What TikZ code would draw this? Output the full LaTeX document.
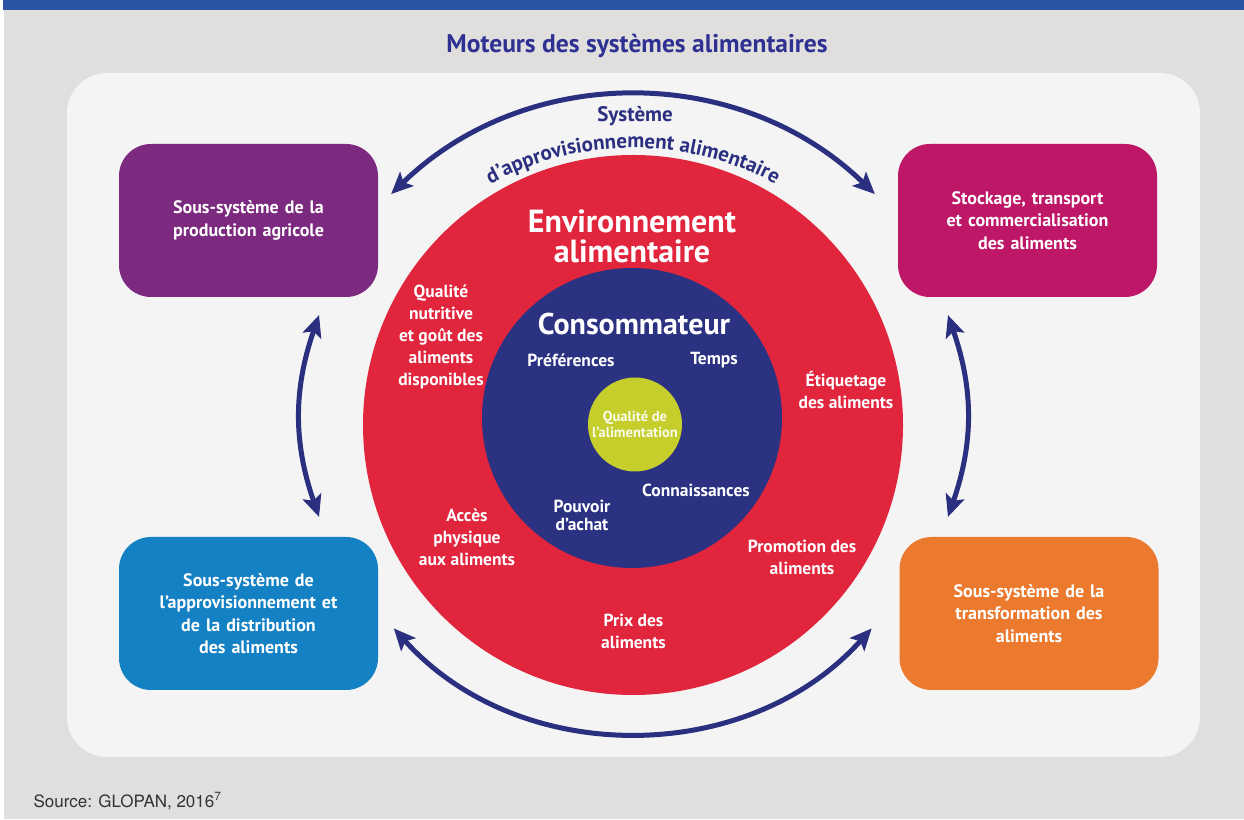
\documentclass[tikz,border=0pt]{standalone}
\usepackage{fontspec}
\setmainfont{PT Sans}
\newfontfamily\srcfont{TeX Gyre Heros}
\usetikzlibrary{arrows.meta,decorations.text,shapes}

\definecolor{bggray}{HTML}{E0DFDD}
\definecolor{panelgray}{HTML}{F4F4F4}
\definecolor{barblue}{HTML}{2B54A3}
\definecolor{titlenavy}{HTML}{2E3192}
\definecolor{arrownavy}{HTML}{2B2F80}
\definecolor{envred}{HTML}{E1253D}
\definecolor{consnavy}{HTML}{2B3282}
\definecolor{dietgreen}{HTML}{C5CE2B}
\definecolor{prodpurple}{HTML}{7B2A7F}
\definecolor{stockmagenta}{HTML}{BE1767}
\definecolor{supplyblue}{HTML}{1581C5}
\definecolor{procorange}{HTML}{EB7A2E}

\tikzstyle{line} = [draw=arrownavy, line width=5pt, >={Stealth[length=22pt, width=20pt, inset=5pt, line width=1pt]}, <->]
\tikzstyle{ring} = [circle, draw=none, inner sep=0pt, align=center]
\tikzstyle{subsys} = [rectangle, rounded corners=32pt, minimum width=259pt, minimum height=153pt, text width=240pt, text centered, text=white, font=\fontsize{18}{22.5}\selectfont\bfseries]
\tikzstyle{envlabel} = [text=white, align=center, font=\fontsize{17.5}{22}\selectfont\bfseries]
\tikzstyle{conslabel} = [text=white, align=center, font=\fontsize{17.5}{18}\selectfont\bfseries]

\begin{document}
\begin{tikzpicture}[x=1pt, y=1pt]
\useasboundingbox (0,0) rectangle (1244,819);
\fill [bggray] (4,0) rectangle (1244,809);
\fill [barblue] (3,809) rectangle (1244,819);
\fill [panelgray, rounded corners=40pt] (67,62) rectangle (1200,746);

\node [text=titlenavy, font=\fontsize{25.5}{25.5}\selectfont\bfseries] (title) at (637,773) {Moteurs des systèmes alimentaires};
\node [anchor=base west, text=black!80, font=\srcfont\fontsize{17}{17}\selectfont] (source) at (30,12) {Source: GLOPAN, 2016\textsuperscript{7}};


\node [ring, fill=envred, minimum size=540pt] (env) at (633,394) {};
\node [ring, fill=consnavy, minimum size=300pt, above of=env, node distance=7pt, xshift=-1pt] (cons) {};
\node [ring, fill=dietgreen, minimum size=94pt, below of=cons, node distance=6.5pt, xshift=3pt, text=white!92!dietgreen, font=\fontsize{14.5}{16.5}\selectfont\bfseries] (diet) {Qualité de\\l'alimentation};


\node [envlabel, above of=env, node distance=189pt, xshift=-1pt, font=\fontsize{32}{30}\selectfont\bfseries] (envtitle) {Environnement\\alimentaire};
\node [envlabel, above of=env, node distance=88pt, xshift=-192pt] (qualite) {Qualité\\nutritive\\et goût des\\aliments\\disponibles};
\node [envlabel, above of=env, node distance=35pt, xshift=213pt] (etiquetage) {Étiquetage\\des aliments};
\node [envlabel, below of=env, node distance=112pt, xshift=-166pt] (acces) {Accès\\physique\\aux aliments};
\node [envlabel, below of=env, node distance=132pt, xshift=169pt] (promotion) {Promotion des\\aliments};
\node [envlabel, below of=env, node distance=206.5pt, xshift=0.5pt] (prix) {Prix des\\aliments};


\node [conslabel, above of=cons, node distance=94pt, xshift=2pt, font=\fontsize{30}{30}\selectfont\bfseries] (constitle) {Consommateur};
\node [conslabel, above of=cons, node distance=58pt, xshift=-61pt] (pref) {Préférences};
\node [conslabel, right of=pref, node distance=143pt] (temps) {Temps};
\node [conslabel, below of=cons, node distance=72pt, xshift=64pt] (connais) {Connaissances};
\node [conslabel, below of=cons, node distance=97pt, xshift=-50pt] (pouvoir) {Pouvoir\\d'achat};


\node [subsys, fill=prodpurple, above of=env, node distance=204.5pt, xshift=-384.5pt] (prod) {Sous-système de la\\production agricole};
\node [subsys, fill=stockmagenta, right of=prod, node distance=779pt] (stock) {Stockage, transport\\et commercialisation\\des aliments};
\node [subsys, fill=supplyblue, below of=prod, node distance=393pt] (supply) {Sous-système de\\l'approvisionnement et\\de la distribution\\des aliments};
\node [subsys, fill=procorange, right of=supply, node distance=780.5pt] (proc) {Sous-système de la\\transformation des\\aliments};


\coordinate (prod_top) at ([xshift=13pt, yshift=26.5pt]prod.east);
\coordinate (stock_top) at ([xshift=-23pt, yshift=26.5pt]stock.west);
\coordinate (supply_bot) at ([xshift=15.7pt, yshift=-15pt]supply.east);
\coordinate (proc_bot) at ([xshift=-27.7pt, yshift=-15pt]proc.west);
\coordinate (prod_down) at ([xshift=70.5pt, yshift=-18pt]prod.south);
\coordinate (supply_up) at ([xshift=70.5pt, yshift=20pt]supply.north);
\coordinate (stock_down) at ([xshift=-79.5pt, yshift=-18pt]stock.south);
\coordinate (proc_up) at ([xshift=-81pt, yshift=20pt]proc.north);

\path [line] (prod_top) to [out=44, in=136] (stock_top);
\path [line] (supply_bot) to [out=-48, in=-132] (proc_bot);
\path [line] (prod_down) to [out=251, in=109] (supply_up);
\path [line] (stock_down) to [out=-71, in=71] (proc_up);


\node [text=arrownavy, font=\fontsize{21}{21}\selectfont\bfseries] (systeme) at (635,703) {Système};
\coordinate (arclabel) at (352,474.3);
\path [decorate, decoration={text along path, text align=center, text color=arrownavy, text={|\fontsize{21}{21}\selectfont\bfseries|d'approvisionnement alimentaire}}] (arclabel) arc [start angle=160, end angle=20, radius=299];

\end{tikzpicture}
\end{document}
